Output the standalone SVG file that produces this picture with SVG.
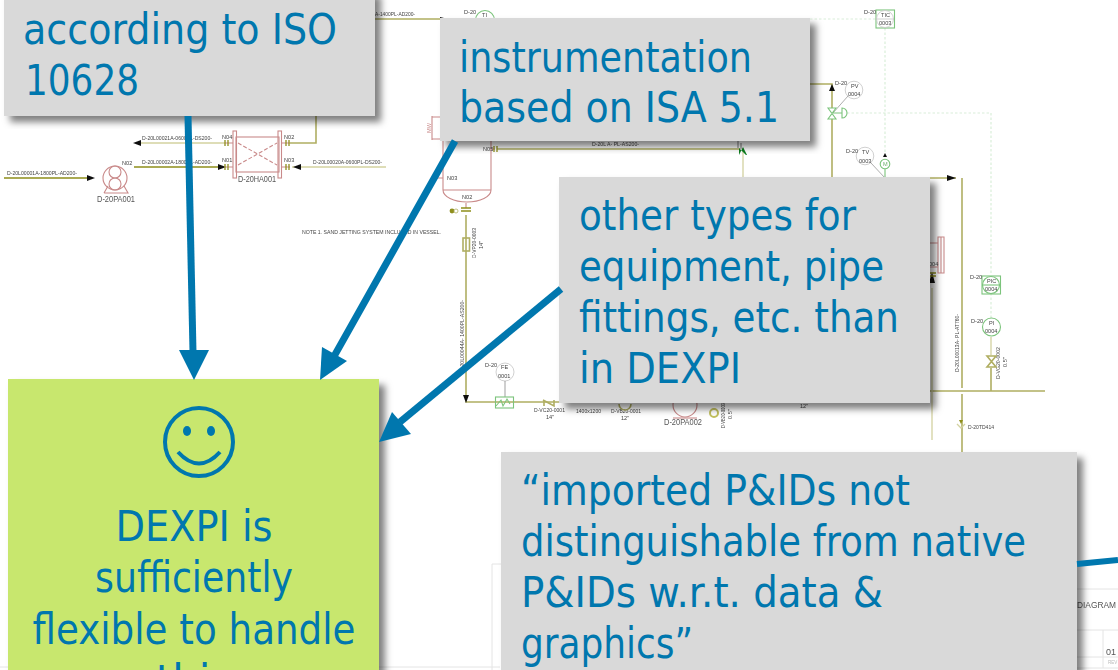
<svg xmlns="http://www.w3.org/2000/svg" width="1118" height="670" viewBox="0 0 1118 670">
<style>
.t{font-family:"DejaVu Sans","Liberation Sans",sans-serif;font-size:42px;fill:#0077ae}
.s{font-family:"Liberation Sans",Arial,sans-serif;font-size:5.6px;fill:#444}
.m{font-family:"Liberation Sans",Arial,sans-serif;font-size:8.2px;fill:#555}
.box{fill:#d9d9d9;filter:url(#sh)}
.ol{fill:none;stroke:#b0ae62;stroke-width:1.6}
.lt{fill:none;stroke:#d3d2a0;stroke-width:1.3}
.dk{fill:none;stroke:#8f8f1e;stroke-width:1.3}
.rd{fill:none;stroke:#c98a8a;stroke-width:1.1}
.gr{fill:none;stroke:#7cc47c;stroke-width:1.1}
.wh{fill:#fff;stroke:#c4c4c4;stroke-width:.8}
.da{fill:none;stroke:#d9eed9;stroke-width:1.2;stroke-dasharray:2.5 2}
.ar{fill:#111}
.bl{fill:none;stroke:#0077ae;stroke-width:7}
.tb{fill:none;stroke:#e4e4e4;stroke-width:1}
</style>
<defs>
<filter id="sh" x="-5%" y="-5%" width="115%" height="115%"><feDropShadow dx="6" dy="6" stdDeviation="3.500" flood-color="#000" flood-opacity=".5"/></filter>
<filter id="bl" x="0" y="0" width="100%" height="100%"><feGaussianBlur stdDeviation=".4"/></filter>
</defs>
<rect width="1118" height="670" fill="#fff"/>
<g id="pid" filter="url(#bl)">
<g id="connectors">
<path class="dk" d="M4 178H88M134 167H218"/>
<path class="lt" d="M135 143H225M292 167H386"/>
<path class="ol" d="M290 143H316V110M375 19H440M497 149H740M466 215V402H560M810 84H832V108M832 119V178M930 178H956M962 178V388M962 394V452M930 391H1045M991 368V391"/>
<path class="lt" d="M743 148V177M932 288V440M991 337V355"/>
<path class="da" d="M810 19H876M885 28V155M847 113H991V275M991 293V318"/>
<path class="ar" d="M87 175L95 178L87 181ZM218 164L226 167L218 170ZM293 167L301 164V170ZM133 143L141 140V146ZM440 17L448 19L440 21ZM829 91L832 84L835 91ZM883 157H887L885 153ZM463 395H469L466 403ZM947 175L956 178L947 181ZM929 283L932 272L935 283Z"/>
</g>
<g id="title-block">
<path class="tb" d="M492 670V564H510M1070 589H1118M1070 630H1118M1070 657H1118M1070 668H1118M1103 630V668M0 667H500"/>
<text class="m" x="1077" y="608" textLength="39" lengthAdjust="spacingAndGlyphs">DIAGRAM</text>
<text class="m" x="1106" y="655" style="font-size:9px">01</text>
<text class="s" x="1108" y="664" style="fill:#bbb;font-size:4.500px">REV</text>
</g>
<g id="D-20PA001"><circle class="rd" cx="115" cy="178" r="12"/><circle class="rd" cx="115" cy="172" r="6"/><circle class="rd" cx="115" cy="184" r="6"/><path class="rd" d="M104 193H128L124 186M104 193L108 186"/><text class="m" x="97" y="202" textLength="38" lengthAdjust="spacingAndGlyphs">D-20PA001</text></g>
<g id="D-20HA001"><rect class="rd" x="236" y="137" width="43" height="35"/><rect class="rd" x="233" y="131" width="3.500" height="47"/><rect class="rd" x="278" y="131" width="3.500" height="47"/><path class="rd" stroke-dasharray="4 2" d="M238 165L277 143M238 143L277 165"/><path class="rd" d="M225 143H233M225 167H233M282 143H290M282 167H290"/><path class="dk" d="M225 140V146M228 140V146M286 140V146M289 140V146M225 164V170M228 164V170M286 164V170M289 164V170"/><text class="m" x="238" y="182" textLength="38" lengthAdjust="spacingAndGlyphs">D-20HA001</text></g>
<g id="vessel"><path class="rd" d="M443 130V190A24 12 0 0 0 491 190V130M443 190H491M432 116V140M432 117H443M432 139H443M435 178H443M491 149H495M466 203V208"/><path class="dk" d="M461 208H471M461 211H471M497 146V152M494 146V152"/><circle cx="452" cy="211" r="2.400" fill="#8f8f1e"/><circle cx="456" cy="211" r="2" fill="#fff" stroke="#b0ae62" stroke-width=".8"/><text class="s" transform="translate(431 133) rotate(-90)" style="fill:#c98a8a">MW</text><text class="s" x="483" y="151">N05</text><text class="s" x="447" y="180">N03</text><text class="s" x="462" y="199">N02</text><rect class="ol" x="463" y="238" width="6.500" height="13" fill="#fff"/></g>
<g id="labels">
<text class="s" x="7" y="175" textLength="70" lengthAdjust="spacingAndGlyphs">D-20L00001A-1800PL-AD200-</text>
<text class="s" x="142" y="140" textLength="70" lengthAdjust="spacingAndGlyphs">D-20L00021A-0600PL-DS200-</text>
<text class="s" x="142" y="164" textLength="70" lengthAdjust="spacingAndGlyphs">D-20L00002A-1800PL-AD200-</text>
<text class="s" x="313" y="164" textLength="69" lengthAdjust="spacingAndGlyphs">D-20L00020A-0600PL-DS200-</text>
<text class="s" x="122" y="165">N02</text><text class="s" x="222" y="139">N04</text><text class="s" x="284" y="139">N02</text><text class="s" x="222" y="162">N01</text><text class="s" x="284" y="162">N03</text>
<text class="s" x="302" y="234" textLength="139" lengthAdjust="spacingAndGlyphs">NOTE 1. SAND JETTING SYSTEM INCLUDED IN VESSEL.</text>
<text class="s" x="375" y="16" textLength="40" lengthAdjust="spacingAndGlyphs">A-1400PL-AD200-</text>
<text class="s" x="592" y="146" textLength="47" lengthAdjust="spacingAndGlyphs">D-20L A- PL-AS200-</text>
<text class="s" transform="translate(464 372) rotate(-90)" textLength="72" lengthAdjust="spacingAndGlyphs">D-20L00044A- 1400PL-AS200-</text>
<text class="s" transform="translate(476 258) rotate(-90)" textLength="30" lengthAdjust="spacingAndGlyphs">D-VP20-0003</text>
<text class="s" transform="translate(483 249) rotate(-90)">14"</text>
<text class="s" x="534" y="412" textLength="31" lengthAdjust="spacingAndGlyphs">D-VC20-0001</text><text class="s" x="546" y="419">14"</text>
<text class="s" x="576" y="413" textLength="25" lengthAdjust="spacingAndGlyphs">1400x1200</text>
<text class="s" x="611" y="413" textLength="30" lengthAdjust="spacingAndGlyphs">D-VB20-0001</text><text class="s" x="621" y="420">12"</text>
<text class="s" x="800" y="408">12"</text>
<text class="s" transform="translate(725 428) rotate(-90)" textLength="25" lengthAdjust="spacingAndGlyphs">D-VB20-0003</text>
<text class="s" transform="translate(732 419) rotate(-90)">0.5"</text>
<text class="s" transform="translate(959 372) rotate(-90)" textLength="58" lengthAdjust="spacingAndGlyphs">D-20L00013A- PL-AT760-</text>
<text class="s" transform="translate(1000 379) rotate(-90)" textLength="32" lengthAdjust="spacingAndGlyphs">D-VG20-0002</text>
<text class="s" transform="translate(1007 367) rotate(-90)">0.5"</text>
<text class="s" x="968" y="429" textLength="26" lengthAdjust="spacingAndGlyphs">D-20TD414</text>
</g>
<g id="TI-0003"><circle class="gr" cx="485" cy="20" r="9.500"/><text class="s" x="464" y="14">D-20</text><text class="s" x="482" y="17">TI</text></g>
<g id="TIC-0003"><rect class="gr" x="876" y="10" width="18.500" height="18"/><circle class="wh" cx="885" cy="19" r="8.500"/><path class="wh" d="M876 19H894"/><text class="s" x="864" y="14">D-20</text><text class="s" x="881" y="17">TIC</text><text class="s" x="879" y="25">0003</text></g>
<g id="PV-0004"><circle class="wh" cx="854" cy="90" r="8.800"/><text class="s" x="851" y="88">PV</text><text class="s" x="848" y="96">0004</text><text class="s" x="835" y="85">D-20</text><path d="M848 96L833 113" fill="none" stroke="#777" stroke-width=".6"/><path class="gr" d="M828 108H836L828 119H836ZM832 113H842M842 108A5 5 0 0 1 842 118Z"/></g>
<g id="TV-0003"><circle class="wh" cx="865" cy="156" r="8.800"/><text class="s" x="862" y="154">TV</text><text class="s" x="859" y="163">0003</text><text class="s" x="846" y="153">D-20</text><path d="M871 163L885 178" fill="none" stroke="#777" stroke-width=".6"/><circle class="gr" cx="885" cy="164" r="4.800"/><text class="s" x="883" y="166" style="fill:#6cae6c">M</text><path class="gr" d="M885 169V178"/></g>
<g id="PIC-0004"><rect class="gr" x="982" y="276" width="18.500" height="18"/><circle class="gr" cx="991" cy="285" r="8.500"/><path class="gr" d="M982 285H1000"/><text class="s" x="970" y="279">D-20</text><text class="s" x="987" y="283">PIC</text><text class="s" x="985" y="291">0004</text></g>
<g id="PI-0004"><circle class="gr" cx="991.500" cy="327" r="9"/><text class="s" x="971" y="323">D-20</text><text class="s" x="989" y="325">PI</text><text class="s" x="985" y="333">0004</text><path class="ol" d="M987 356H996L987 367H996Z"/></g>
<g id="FE-0001"><circle class="wh" cx="505" cy="372" r="9"/><text class="s" x="501" y="369">FE</text><text class="s" x="498" y="378">0001</text><text class="s" x="485" y="367">D-20</text><path d="M505 381V397" fill="none" stroke="#777" stroke-width=".7"/><rect class="gr" x="495.500" y="397" width="18" height="11" fill="#fff"/><path class="gr" d="M496 406L501 400L503 406L507 399L510 404"/></g>
<g id="valves"><path class="ol" d="M543 400L554 406V400M544 400V406"/><path class="ol" d="M619 404A6 6 0 0 0 631 404"/><path d="M741 143V149M738 141V148" fill="none" stroke="#444" stroke-width=".7"/><path d="M739 148L746 155H739ZM743 147L739 155H747Z" fill="#0a7d1f"/></g>
<g id="D-20PA002"><circle class="rd" cx="685" cy="405" r="12"/><path class="rd" d="M673 418H697"/><text class="m" x="664" y="425" textLength="38" lengthAdjust="spacingAndGlyphs">D-20PA002</text><circle cx="714" cy="413" r="4" fill="#fff" stroke="#c2c05e" stroke-width="2"/></g>
<g id="E-932"><path class="rd" d="M930 243H938V267H930M938 237H944V273H938ZM941 237V273"/><text class="s" x="929" y="266">004</text><path class="dk" d="M928 273H936M928 276H936"/></g>
<g id="TD414"><path d="M959 420H963L961 424Z" fill="#8f8f1e"/><path class="lt" d="M957 424L961 428L965 424"/></g>
</g>
<g id="note-equipment"><rect class="box" x="4" y="-10" width="371" height="126"/><text class="t" x="23" y="44" textLength="314" lengthAdjust="spacingAndGlyphs">according to ISO</text><text class="t" x="25" y="95" textLength="114" lengthAdjust="spacingAndGlyphs">10628</text></g>
<g id="note-instrumentation"><rect class="box" x="440" y="18" width="370" height="123"/><text class="t" x="459" y="72" textLength="293" lengthAdjust="spacingAndGlyphs">instrumentation</text><text class="t" x="459" y="122" textLength="320" lengthAdjust="spacingAndGlyphs">based on ISA 5.1</text></g>
<g id="note-types"><rect class="box" x="559" y="177" width="371" height="226"/><text class="t" x="579" y="230" textLength="277" lengthAdjust="spacingAndGlyphs">other types for</text><text class="t" x="579" y="281" textLength="305" lengthAdjust="spacingAndGlyphs">equipment, pipe</text><text class="t" x="579" y="332" textLength="320" lengthAdjust="spacingAndGlyphs">fittings, etc. than</text><text class="t" x="579" y="383" textLength="162" lengthAdjust="spacingAndGlyphs">in DEXPI</text></g>
<g id="note-imported"><rect class="box" x="501" y="452" width="576" height="230"/><text class="t" x="521" y="505" textLength="389" lengthAdjust="spacingAndGlyphs">“imported P&amp;IDs not</text><text class="t" x="521" y="556" textLength="505" lengthAdjust="spacingAndGlyphs">distinguishable from native</text><text class="t" x="521" y="607" textLength="362" lengthAdjust="spacingAndGlyphs">P&amp;IDs w.r.t. data &amp;</text><text class="t" x="521" y="658" textLength="172" lengthAdjust="spacingAndGlyphs">graphics”</text></g>
<g id="note-flexible"><rect class="box" x="8" y="379" width="371" height="300" style="fill:#c8e76e"/><g fill="none" stroke="#0077ae" stroke-width="4"><circle cx="199" cy="442" r="34"/><path d="M178 452Q199 475 220 452"/></g><ellipse cx="187" cy="431" rx="4" ry="5" fill="#0077ae"/><ellipse cx="211" cy="431" rx="4" ry="5" fill="#0077ae"/><g text-anchor="middle"><text class="t" x="194" y="541" textLength="157" lengthAdjust="spacingAndGlyphs">DEXPI is</text><text class="t" x="194" y="592" textLength="198" lengthAdjust="spacingAndGlyphs">sufficiently</text><text class="t" x="194" y="644" textLength="323" lengthAdjust="spacingAndGlyphs">flexible to handle</text><text class="t" x="194" y="695">this</text></g></g>
<g id="callouts">
<path class="bl" d="M188 116L193 352"/><path d="M179 350H209L194 380Z" fill="#0077ae"/>
<path class="bl" d="M455 141L332 360"/><path d="M322 347L347 361L320 380Z" fill="#0077ae"/>
<path class="bl" d="M561 289L400 422"/><path d="M392 412L411 434L379 442Z" fill="#0077ae"/>
<path d="M1077 564L1118 560" fill="none" stroke="#0077ae" stroke-width="6"/>
</g>
</svg>
